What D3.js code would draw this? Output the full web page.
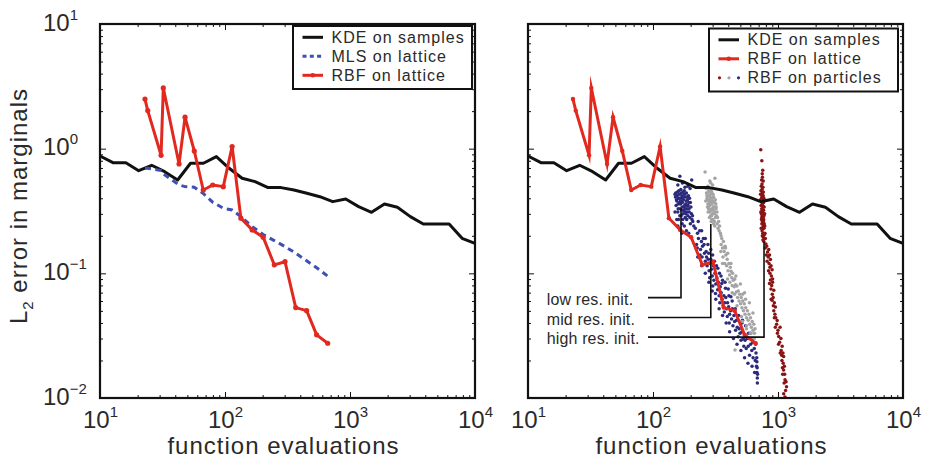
<!DOCTYPE html>
<html>
<head>
<meta charset="utf-8">
<script src="https://cdn.jsdelivr.net/npm/d3@7"></script>
<style>
  body { margin: 0; background: #fff; }
  svg { display: block; }
  text { font-family: "Liberation Sans", Arial, Helvetica, sans-serif; fill: #2a2a2a; }
</style>
</head>
<body>
<svg id="chart" width="933" height="461"></svg>
<script>
// ---- data -------------------------------------------------------------
// KDE on random samples: evaluations vs. L2 error
const kdeEvals = [10, 12.7, 16.1, 20.4, 25.9, 32.9, 41.8, 53.0, 67.2, 85.3, 108, 137, 174, 221, 281,
  356, 452, 574, 728, 924, 1172, 1487, 1887, 2395, 3039, 3857, 4894, 6210, 7880, 10000];
const kdeError = [0.874, 0.772, 0.772, 0.666, 0.736, 0.654, 0.561, 0.764, 0.764, 0.863, 0.696, 0.579, 0.544, 0.487, 0.487,
  0.466, 0.439, 0.412, 0.376, 0.395, 0.343, 0.309, 0.360, 0.339, 0.285, 0.249, 0.249, 0.249, 0.191, 0.174];

// lattice sizes (function evaluations) and the errors of the two interpolants
const latticeEvals = [22.9, 24.1, 30.8, 32.1, 42.9, 47.9, 56.8, 67.0, 79.7, 96.9,
  114, 134, 165, 202, 248, 302, 368, 450, 541, 663];
const rbfLatticeError = [2.50, 2.02, 0.885, 3.07, 0.754, 1.79, 0.958, 0.466, 0.511, 0.496,
  1.04, 0.277, 0.223, 0.195, 0.117, 0.124, 0.0531, 0.0502, 0.0321, 0.0275];
const mlsLatticeError = [0.697, 0.697, 0.667, 0.627, 0.512, 0.496, 0.490, 0.437, 0.372, 0.333,
  0.322, 0.285, 0.237, 0.205, 0.183, 0.164, 0.145, 0.126, 0.111, 0.095];

// RBF on particles, [evaluations, error], one run per initial resolution
const lowResParticles = [
  [164,0.60],[204,0.56],[172,0.53],[158,0.51],[190,0.50],[180,0.49],[198,0.48],
  [151,0.41],[168,0.44],[183,0.36],[159,0.33],[175,0.39],[192,0.42],[164,0.29],[178,0.46],[187,0.31],[155,0.38],
  [171,0.34],[199,0.37],[162,0.43],[181,0.28],[169,0.40],[194,0.33],[157,0.45],[176,0.32],[189,0.39],[166,0.36],
  [203,0.30],[153,0.35],[173,0.27],[185,0.44],[160,0.40],[197,0.28],[179,0.35],[167,0.47],[208,0.26],[150,0.43],
  [182,0.41],[163,0.37],[174,0.30],[191,0.35],[158,0.31],[170,0.42],[186,0.27],[196,0.40],[165,0.33],[178,0.43],
  [201,0.34],[154,0.39],[172,0.37],[188,0.33],[161,0.46],[180,0.31],[193,0.37],[168,0.29],[205,0.27],[176,0.41],
  [184,0.38],[156,0.42],[170,0.32],[190,0.29],[212,0.24],[163,0.40],[177,0.34],[195,0.31],[159,0.36],[174,0.45],
  [186,0.35],[199,0.25],[166,0.38],[181,0.33],[152,0.44],[171,0.25],[188,0.41],[207,0.29],[160,0.27],[183,0.30],
  [155,0.27],[162,0.23],[170,0.21],[178,0.24],[185,0.22],[193,0.21],[150,0.31],[158,0.24],
  [218,0.23],[223,0.17],[227,0.21],[231,0.19],[226,0.16],[236,0.22],[240,0.155],[244,0.18],[238,0.14],[249,0.165],
  [253,0.19],[247,0.135],[258,0.145],[262,0.125],[256,0.17],[266,0.15],[271,0.115],[268,0.135],[276,0.13],[281,0.105],
  [279,0.145],[287,0.12],[284,0.092],[293,0.108],[290,0.13],[298,0.095],[303,0.115],[307,0.088],[301,0.079],[313,0.10],
  [318,0.082],[316,0.069],[324,0.092],[329,0.074],[333,0.085],[338,0.066],[345,0.078],[342,0.058],[351,0.070],[357,0.062],
  [355,0.083],[364,0.055],[369,0.066],[375,0.058],[372,0.049],[382,0.064],[388,0.052],[395,0.058],[393,0.045],[403,0.054],
  [410,0.047],[407,0.040],[418,0.050],[425,0.043],[431,0.052],[436,0.038],[444,0.046],[450,0.041],[458,0.035],[466,0.042],
  [472,0.037],[480,0.031],[489,0.036],[497,0.033],[506,0.029],[515,0.034],[526,0.030],[533,0.026],[545,0.029],[557,0.025],
  [566,0.030],[578,0.026],[592,0.022],[604,0.027],[617,0.024],[632,0.021],[646,0.025],[658,0.020],[667,0.023],[673,0.018],
  [676,0.021],[679,0.016],[681,0.0175],[683,0.0145],[684,0.0132],[678,0.0195],[686,0.0155],[662,0.027],[629,0.028],[590,0.030],
  [230,0.26],[245,0.22],[262,0.19],[275,0.17],[290,0.155],[300,0.14],[310,0.125],[322,0.115],[330,0.11],[340,0.10],
  [350,0.095],[360,0.088],[377,0.085],[380,0.076],[400,0.075],[405,0.066],[420,0.065],[430,0.060],[455,0.052],[485,0.046],
  [515,0.040],[520,0.042],[550,0.038],[580,0.033],[600,0.033],[640,0.030],
  [228,0.135],[245,0.115],[262,0.10],[280,0.085],[298,0.072],[318,0.062],[338,0.052],[360,0.046],[385,0.040],[410,0.034],
  [440,0.030],[470,0.027],[505,0.024],[540,0.021],[575,0.019],[620,0.018],[650,0.016]
];
const midResParticles = [
  [261,0.65],[313,0.58],[290,0.53],[275,0.50],[300,0.51],[285,0.55],
  [268,0.44],[284,0.39],[297,0.33],[275,0.36],[306,0.41],[289,0.29],[279,0.47],[313,0.31],[271,0.40],[293,0.37],
  [301,0.27],[282,0.33],[318,0.36],[266,0.48],[288,0.43],[310,0.26],[276,0.31],[298,0.40],[322,0.29],[285,0.35],
  [304,0.34],[270,0.42],[292,0.26],[315,0.39],[280,0.38],[326,0.25],[295,0.45],[308,0.30],[273,0.34],[287,0.41],
  [300,0.30],[319,0.33],[283,0.28],[296,0.36],[331,0.23],[277,0.45],[311,0.37],[290,0.32],[305,0.25],[325,0.31],
  [264,0.38],[302,0.43],[316,0.28],[286,0.37],[294,0.29],[335,0.26],[281,0.42],[309,0.34],[299,0.38],[338,0.22],
  [274,0.39],[312,0.24],[328,0.28],[291,0.46],[303,0.32],[341,0.24],[278,0.33],[320,0.34],[296,0.27],[286,0.31],
  [346,0.21],[351,0.17],[355,0.19],[349,0.15],[360,0.16],[366,0.18],[363,0.135],[371,0.15],[377,0.165],[375,0.12],
  [383,0.14],[388,0.115],[392,0.13],[398,0.105],[396,0.145],[404,0.12],[410,0.097],[415,0.112],[412,0.085],[421,0.104],
  [427,0.092],[433,0.10],[430,0.08],[439,0.088],[446,0.078],[451,0.09],[449,0.068],[458,0.081],[464,0.071],[469,0.079],
  [475,0.064],[481,0.072],[488,0.06],[494,0.068],[502,0.057],[508,0.064],[515,0.053],[522,0.06],[529,0.05],[537,0.057],
  [545,0.047],[552,0.053],[560,0.044],[569,0.05],[577,0.042],[586,0.047],[594,0.039],[603,0.044],[612,0.037],[622,0.041],
  [631,0.035],[640,0.039],[648,0.033],[655,0.036],[645,0.030],[600,0.033],[453,0.0243],[520,0.041],[560,0.036],[610,0.030],
  [350,0.20],[380,0.16],[420,0.12],[460,0.095],[500,0.082],[520,0.068],[540,0.070],[550,0.062],[590,0.058],[630,0.048],
  [360,0.12],[395,0.09],[430,0.07],[470,0.055],[510,0.045],[560,0.038],[610,0.033]
];
const highResParticles = [
  [728,0.98],[742,0.80],[755,0.67],[748,0.63],[762,0.55],[735,0.50],[745,0.52],[758,0.49],[751,0.59],[739,0.56],
  [731,0.46],[752,0.44],[744,0.41],[763,0.45],[727,0.39],[758,0.38],[739,0.43],[770,0.40],[748,0.36],[733,0.35],
  [762,0.42],[741,0.33],[755,0.31],[775,0.34],[729,0.31],[747,0.29],[766,0.32],[737,0.27],[759,0.28],[781,0.30],
  [743,0.25],[751,0.26],[769,0.27],[734,0.23],[761,0.24],[776,0.25],[746,0.22],[756,0.21],[773,0.23],[786,0.21],
  [749,0.20],[764,0.195],[779,0.205],[792,0.19],[758,0.185],[770,0.18],[738,0.38],[754,0.35],[767,0.37],[725,0.43],
  [745,0.47],[760,0.34],[735,0.30],[772,0.29],[750,0.32],[742,0.28],[764,0.26],[783,0.24],[757,0.23],[740,0.40],
  [800,0.172],[812,0.165],[790,0.16],[843,0.155],[825,0.148],[806,0.14],[856,0.14],[835,0.135],[818,0.125],[870,0.129],
  [848,0.12],[862,0.112],[880,0.115],[897,0.107],[840,0.105],[862,0.10],[885,0.095],[905,0.09],[870,0.0885],[855,0.083],
  [905,0.085],[890,0.08],[878,0.075],[925,0.0733],[900,0.068],[915,0.064],[882,0.062],[897,0.0607],[935,0.058],[918,0.055],
  [954,0.0536],[925,0.05],[945,0.047],[935,0.044],[985,0.0419],[960,0.044],[975,0.039],[952,0.037],[1039,0.037],[1000,0.035],
  [990,0.033],[1013,0.0312],[1055,0.03],[1030,0.028],[1010,0.027],[1080,0.026],[1060,0.024],[1042,0.023],[1095,0.023],[1109,0.0215],
  [1075,0.02],[1100,0.019],[1125,0.018],[1109,0.0168],[1090,0.0155],[1138,0.014],[1120,0.0132],[1170,0.0123],[1150,0.0115],[1138,0.0102],
  [1110,0.0108],[1160,0.0135],[1130,0.0155],[1085,0.0175],[1070,0.022]
];

// callouts: initial resolution, [evaluations, top of marker, level of label]
const initLabels = ["low res. init.", "mid res. init.", "high res. init."];
const initMarkers = [[167.5, 0.334, 0.0638], [290, 0.249, 0.0442], [773, 0.18, 0.0308]];

const xDecades = [1e1, 1e2, 1e3, 1e4];
const xExponents = ["1", "2", "3", "4"];
const yDecades = [1e1, 1e0, 1e-1, 1e-2];
const yExponents = ["1", "0", "\u22121", "\u22122"];

// ---- styling ----------------------------------------------------------
const C = {
  kde: "#111111",
  rbf: "#e2291f",
  mls: "#3f4fb3",
  low: "#2c2a7c",
  mid: "#a4a4a4",
  high: "#8a1414"
};

const svg = d3.select("#chart");
const plotTop = 24, plotBottom = 398;
const panels = [
  { x0: 100, x1: 475, yLabels: true, legend: { x: 293, y: 26, w: 179, h: 63 } },
  { x0: 528, x1: 903, yLabels: false, legend: { x: 709, y: 28.5, w: 189, h: 63 } }
];

function addPowerLabel(sel, exps, ticks) {
  sel.selectAll(".tick text").each(function (d) {
    const t = d3.select(this);
    const e = exps[ticks.indexOf(d)];
    t.text(null).attr("font-size", 24);
    t.append("tspan").text("10");
    t.append("tspan").attr("font-size", 15).attr("dy", -11).text(e);
  });
}

panels.forEach((p, pi) => {
  const g = svg.append("g");
  const x = d3.scaleLog().domain([10, 1e4]).range([p.x0, p.x1]);
  const y = d3.scaleLog().domain([1e-2, 1e1]).range([plotBottom, plotTop]);
  const minorX = x.ticks().filter(v => !xDecades.includes(v));
  const minorY = y.ticks().filter(v => !yDecades.includes(v));

  const plot = g.append("g");
  const line = d3.line().x(d => x(d[0])).y(d => y(d[1]));

  if (pi === 1) {
    // particle clouds first so the curves sit on top
    [[lowResParticles, C.low], [midResParticles, C.mid], [highResParticles, C.high]].forEach(([pts, col]) => {
      plot.append("g").selectAll("circle").data(pts).join("circle")
        .attr("cx", d => x(d[0])).attr("cy", d => y(d[1])).attr("r", 1.75).attr("fill", col);
    });
  }

  plot.append("path").datum(d3.zip(kdeEvals, kdeError))
    .attr("d", line).attr("fill", "none").attr("stroke", C.kde)
    .attr("stroke-width", 3).attr("stroke-linejoin", "round");

  if (pi === 0) {
    plot.append("path").datum(d3.zip(latticeEvals, mlsLatticeError))
      .attr("d", line).attr("fill", "none").attr("stroke", C.mls)
      .attr("stroke-width", 3).attr("stroke-dasharray", "6,4.5");
  }

  plot.append("path").datum(d3.zip(latticeEvals, rbfLatticeError))
    .attr("d", line).attr("fill", "none").attr("stroke", C.rbf)
    .attr("stroke-width", 3)
    .attr("stroke-linejoin", pi === 0 ? "round" : "miter").attr("stroke-miterlimit", 10);
  plot.append("g").selectAll("circle").data(d3.zip(latticeEvals, rbfLatticeError)).join("circle")
    .attr("cx", d => x(d[0])).attr("cy", d => y(d[1])).attr("r", pi === 0 ? 2.6 : 2.2).attr("fill", C.rbf);

  if (pi === 1) {
    // callouts marking where each particle run was initialised
    const ann = plot.append("g");
    initMarkers.forEach((m, i) => {
      const ly = y(m[2]);
      ann.append("path")
        .attr("d", `M${p.x0 + 120},${ly}H${x(m[0])}V${y(m[1])}`)
        .attr("fill", "none").attr("stroke", "#111").attr("stroke-width", 1.6);
      ann.append("text").attr("x", p.x0 + 18.7).attr("y", ly + 7.2)
        .attr("font-size", 16).attr("letter-spacing", 0.15).text(initLabels[i]);
    });
  }

  // axes: ticks point inward on all four sides
  const axes = g.append("g");
  const mk = (axisFn, scale, vals, size, tx, ty) => {
    const a = axes.append("g").attr("transform", `translate(${tx},${ty})`)
      .call(axisFn(scale).tickValues(vals).tickSize(size).tickFormat(""));
    a.select(".domain").remove();
    a.selectAll("line").attr("stroke", "#111").attr("stroke-width", 1);
    return a;
  };
  mk(d3.axisBottom, x, minorX, -3, 0, plotBottom);
  mk(d3.axisTop, x, minorX, -3, 0, plotTop);
  mk(d3.axisLeft, y, minorY, -3, p.x0, 0);
  mk(d3.axisRight, y, minorY, -3, p.x1, 0);
  mk(d3.axisTop, x, xDecades, -6, 0, plotTop);
  mk(d3.axisRight, y, yDecades, -6, p.x1, 0);

  const xb = axes.append("g").attr("transform", `translate(0,${plotBottom})`)
    .call(d3.axisBottom(x).tickValues(xDecades).tickSize(-6));
  xb.select(".domain").remove();
  xb.selectAll("line").attr("stroke", "#111");
  xb.selectAll(".tick text").attr("y", 30).attr("dy", null);
  addPowerLabel(xb, xExponents, xDecades);

  const yl = axes.append("g").attr("transform", `translate(${p.x0},0)`)
    .call(d3.axisLeft(y).tickValues(yDecades).tickSize(-6));
  yl.select(".domain").remove();
  yl.selectAll("line").attr("stroke", "#111");
  if (p.yLabels) {
    yl.selectAll(".tick text").attr("x", 43 - p.x0).attr("dy", null).attr("y", 6)
      .attr("text-anchor", "start");
    addPowerLabel(yl, yExponents, yDecades);
  } else {
    yl.selectAll(".tick text").remove();
  }

  g.append("rect").attr("x", p.x0).attr("y", plotTop)
    .attr("width", p.x1 - p.x0).attr("height", plotBottom - plotTop)
    .attr("fill", "none").attr("stroke", "#111").attr("stroke-width", 2.2);

  // x-axis title
  g.append("text").attr("x", (p.x0 + p.x1) / 2 - 4).attr("y", 454)
    .attr("text-anchor", "middle").attr("font-size", 24).attr("letter-spacing", 1)
    .text("function evaluations");

  // legend
  const L = p.legend;
  const lg = g.append("g");
  lg.append("rect").attr("x", L.x).attr("y", L.y).attr("width", L.w).attr("height", L.h)
    .attr("fill", "#fff").attr("stroke", "#111").attr("stroke-width", 2);
  const entries = pi === 0
    ? [["kde", "KDE on samples"], ["mls", "MLS on lattice"], ["rbf", "RBF on lattice"]]
    : [["kde", "KDE on samples"], ["rbf", "RBF on lattice"], ["particles", "RBF on particles"]];
  entries.forEach(([kind, label], i) => {
    const ry = L.y + 11.3 + i * 19;
    const sx0 = L.x + 9.5, sx1 = L.x + 30;
    if (kind === "particles") {
      [C.high, C.mid, C.low].forEach((col, j) => {
        lg.append("circle").attr("cx", sx0 + 1 + j * 9.5).attr("cy", ry).attr("r", 1.6).attr("fill", col);
      });
    } else {
      const s = lg.append("line").attr("x1", sx0).attr("x2", sx1).attr("y1", ry).attr("y2", ry)
        .attr("stroke", C[kind]).attr("stroke-width", 3);
      if (kind === "mls") s.attr("stroke-dasharray", "4,3.3");
      if (kind === "rbf") lg.append("circle").attr("cx", (sx0 + sx1) / 2).attr("cy", ry).attr("r", 2.3).attr("fill", C.rbf);
    }
    lg.append("text").attr("x", L.x + 38.5).attr("y", ry + 5.6)
      .attr("font-size", 16).attr("letter-spacing", 1).text(label);
  });
});

// y-axis title with subscript
const yt = svg.append("text")
  .attr("transform", "translate(27,206) rotate(-90)")
  .attr("text-anchor", "middle").attr("font-size", 24).attr("letter-spacing", 1);
yt.append("tspan").text("L");
yt.append("tspan").attr("font-size", 15).attr("dy", 6).text("2");
yt.append("tspan").attr("dy", -6).text(" error in marginals");
</script>
</body>
</html>
